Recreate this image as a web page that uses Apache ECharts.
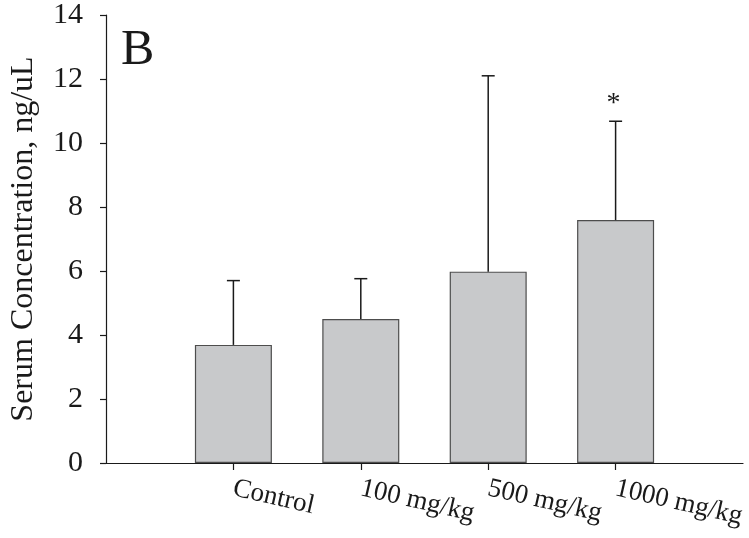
<!DOCTYPE html>
<html>
<head>
<meta charset="utf-8">
<script src="https://cdn.jsdelivr.net/npm/echarts@6/dist/echarts.min.js"></script>
<style>
html,body{margin:0;padding:0;background:#fff;}
#chart{width:749px;height:538px;}
</style>
</head>
<body>
<div id="chart"></div>
<script>
var categories = ['', 'Control', '100 mg/kg', '500 mg/kg', '1000 mg/kg', ''];
var means = [null, 3.69, 4.50, 5.98, 7.59, null];
var errorTops = [null, 5.70, 5.76, 12.10, 10.68, null];
var marks = ['', '', '', '', '*', ''];
var yTicks = { min: 0, max: 14, interval: 2 };
var panelLetter = 'B';
var yName = 'Serum Concentration, ng/uL';

var FONT = '"Liberation Serif", "Times New Roman", serif';
var chart = echarts.init(document.getElementById('chart'));

var errData = [];
for (var i = 0; i < categories.length; i++) {
  if (errorTops[i] != null) errData.push([i, means[i], errorTops[i], marks[i]]);
}

chart.setOption({
  animation: false,
  backgroundColor: '#ffffff',
  grid: { left: 103, right: 6, top: 15, bottom: 75, containLabel: false },
  graphic: [{
    type: 'text', left: 121, top: 26,
    style: { text: panelLetter, font: '50px ' + FONT, fill: '#1a1a1a' }
  }],
  xAxis: {
    type: 'category',
    data: categories,
    boundaryGap: false,
    axisLine: { lineStyle: { color: '#1a1a1a', width: 1.2 } },
    axisTick: {
      show: true, length: 7, inside: false,
      interval: function (idx, val) { return val !== ''; },
      lineStyle: { color: '#1a1a1a', width: 1.2 }
    },
    axisLabel: {
      interval: 0, rotate: -13, margin: 25,
      fontFamily: FONT, fontSize: 27, color: '#1a1a1a'
    },
    splitLine: { show: false }
  },
  yAxis: {
    type: 'value',
    min: yTicks.min, max: yTicks.max, interval: yTicks.interval,
    name: yName,
    nameLocation: 'middle',
    nameGap: 66,
    nameTextStyle: { fontFamily: FONT, fontSize: 32, color: '#1a1a1a' },
    axisLine: { show: true, lineStyle: { color: '#1a1a1a', width: 1.2 } },
    axisTick: { show: true, length: 6, inside: false, lineStyle: { color: '#1a1a1a', width: 1.2 } },
    axisLabel: { margin: 23, fontFamily: FONT, fontSize: 30, color: '#1a1a1a' },
    splitLine: { show: false }
  },
  series: [{
    type: 'bar',
    data: means,
    barWidth: 77,
    itemStyle: { color: '#c8c9cb', borderColor: '#4d4d4d', borderWidth: 1.2 },
    z: 2
  }, {
    type: 'custom',
    data: errData,
    z: 3,
    renderItem: function (params, api) {
      var x = api.value(0);
      var base = api.coord([x, api.value(1)]);
      var top = api.coord([x, api.value(2)]);
      var half = 6.5;
      var children = [
        { type: 'line', shape: { x1: base[0], y1: base[1], x2: top[0], y2: top[1] },
          style: { stroke: '#1a1a1a', lineWidth: 1.5 } },
        { type: 'line', shape: { x1: top[0] - half, y1: top[1], x2: top[0] + half, y2: top[1] },
          style: { stroke: '#1a1a1a', lineWidth: 1.5 } }
      ];
      var m = marks[x];
      if (m) {
        children.push({ type: 'text', x: top[0] - 2, y: top[1] - 18,
          style: { text: m, font: '28px ' + FONT, fill: '#1a1a1a', align: 'center', verticalAlign: 'middle' } });
      }
      return { type: 'group', children: children };
    }
  }]
});
</script>
</body>
</html>
